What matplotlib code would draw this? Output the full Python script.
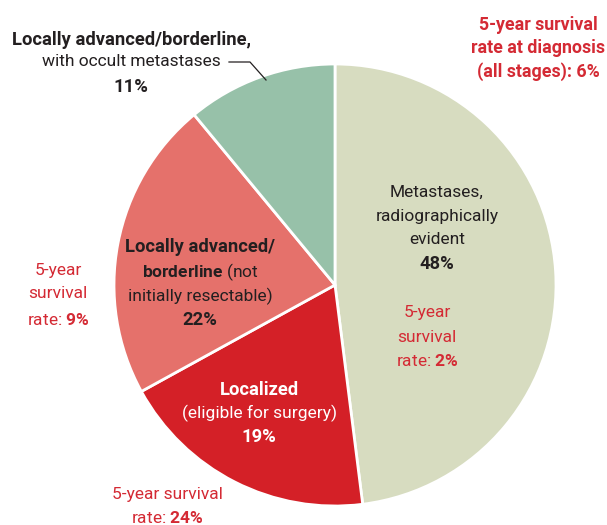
import matplotlib
matplotlib.use("Agg")
import matplotlib.pyplot as plt

plt.rcParams['font.family'] = ['Roboto', 'DejaVu Sans']
plt.rcParams['mathtext.fontset'] = 'custom'
plt.rcParams['mathtext.rm'] = 'Roboto'
plt.rcParams['mathtext.bf'] = 'Roboto:bold'
plt.rcParams['mathtext.it'] = 'Roboto'

categories = ["Metastases, radiographically evident",
              "Localized (eligible for surgery)",
              "Locally advanced/borderline (not initially resectable)",
              "Locally advanced/borderline, with occult metastases"]
shares = [48, 19, 22, 11]
survival = [2, 24, 9, None]
overall_survival = 6
colors = ["#d7dcc0", "#d42027", "#e5716b", "#97c1a9"]

W, H = 607, 525
fig = plt.figure(figsize=(W / 100, H / 100), dpi=100)
ax = fig.add_axes([0, 0, 1, 1])

cx, cy, r = 335, 285, 221
ax.pie(shares, colors=colors, startangle=90, counterclock=False,
       center=(cx, -cy), radius=r,
       wedgeprops=dict(edgecolor='white', linewidth=2))
ax.set_xlim(0, W)
ax.set_ylim(-H, 0)
ax.set_aspect('equal')
ax.axis('off')

DARK = "#231f20"
RED = "#d42a34"
FS = 12.5
FB = 13.2

def t(x, y, s, color=DARK, weight='normal', size=None):
    if size is None:
        size = FB if weight == 'bold' else FS
    ax.text(x, -y, s, ha='center', va='center', color=color,
            fontsize=size, fontweight=weight)

# Metastases
t(437, 192, "Metastases,")
t(437, 216, "radiographically")
t(437, 240, "evident")
t(437, 264, f"{shares[0]}%", weight='bold')
t(427, 313, "5-year", color=RED)
t(427, 337, "survival", color=RED)
t(427, 361, r"rate: $\mathbf{" + f"{survival[0]}" + r"\%}$", color=RED)

# Localized
t(259, 390, "Localized", color='white', weight='bold')
t(259, 413, "(eligible for surgery)", color='white')
t(259, 437, f"{shares[1]}%", color='white', weight='bold')
t(167, 495, "5-year survival", color=RED)
t(167, 518, r"rate: $\mathbf{" + f"{survival[1]}" + r"\%}$", color=RED)

# Locally advanced
t(200, 247, "Locally advanced/", weight='bold')
t(200, 272, r"$\mathbf{borderline}$ (not")
t(200, 296, "initially resectable)")
t(200, 320, f"{shares[2]}%", weight='bold')
t(58, 270, "5-year", color=RED)
t(58, 294, "survival", color=RED)
t(58, 320, r"rate: $\mathbf{" + f"{survival[2]}" + r"\%}$", color=RED)

# Occult
t(131, 40, "Locally advanced/borderline,", weight='bold')
t(131, 62, "with occult metastases")
t(131, 87, f"{shares[3]}%", weight='bold')
ax.plot([229, 250, 266], [-62, -62, -80], color=DARK, linewidth=0.9)

# Overall
t(538, 25, "5-year survival", color=RED, weight='bold', size=12.8)
t(538, 48, "rate at diagnosis", color=RED, weight='bold', size=12.8)
t(538, 72, f"(all stages): {overall_survival}%", color=RED, weight='bold', size=12.8)

fig.savefig("out.png", dpi=100)
